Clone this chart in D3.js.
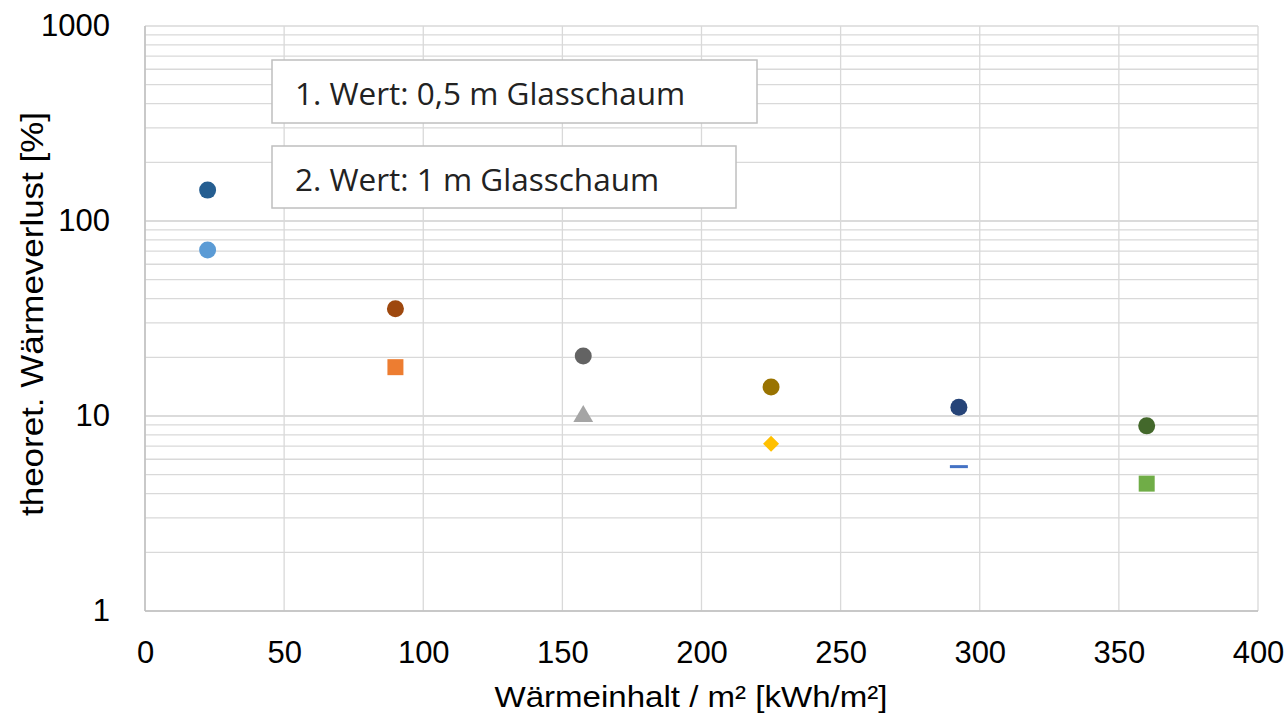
<!DOCTYPE html>
<html>
<head>
<meta charset="utf-8">
<script src="https://cdn.jsdelivr.net/npm/d3@7"></script>
<style>
  body { margin: 0; background: #fff; }
  svg { display: block; }
</style>
</head>
<body>
<div id="chart"></div>
<script>
// data
var xVals = [22.5, 90, 157.5, 225, 292.5, 360];
var firstVals = [144, 35.5, 20.3, 14.1, 11.1, 8.9];   // 0,5 m Glasschaum
var secondVals = [71, 17.8, 10.2, 7.2, 5.5, 4.5];     // 1 m Glasschaum
var firstColors = ["#255e91", "#9e480e", "#636363", "#997300", "#264478", "#43682b"];
var secondColors = ["#5b9bd5", "#ed7d31", "#a5a5a5", "#ffc000", "#4472c4", "#70ad47"];
var secondShapes = ["circle", "square", "triangle", "diamond", "dash", "square"];
var xTicks = [0, 50, 100, 150, 200, 250, 300, 350, 400];
var yTicks = [1, 10, 100, 1000];
var notes = ["1. Wert: 0,5 m Glasschaum", "2. Wert: 1 m Glasschaum"];

var W = 1288, H = 720;
var margin = {left: 145, right: 30, top: 26, bottom: 109};
var width = W - margin.left - margin.right;
var height = H - margin.top - margin.bottom;

var svg = d3.select("#chart").append("svg")
  .attr("width", W)
  .attr("height", H);

var g = svg.append("g")
  .attr("transform", "translate(" + margin.left + "," + margin.top + ")");

var x = d3.scaleLinear().domain([0, 400]).range([0, width]);
var y = d3.scaleLog().domain([1, 1000]).range([height, 0]);

// minor + major horizontal grid
var minor = [];
[1, 10, 100].forEach(function(d) {
  for (var k = 1; k <= 10; k++) minor.push(d * k);
});
g.append("g").selectAll("line")
  .data(minor)
  .join("line")
  .attr("x1", 0).attr("x2", width)
  .attr("y1", function(d) { return y(d); })
  .attr("y2", function(d) { return y(d); })
  .attr("stroke", "#d9d9d9")
  .attr("stroke-width", 1.3);

// vertical grid
g.append("g").selectAll("line")
  .data(xTicks)
  .join("line")
  .attr("x1", function(d) { return x(d); })
  .attr("x2", function(d) { return x(d); })
  .attr("y1", 0).attr("y2", height)
  .attr("stroke", "#d9d9d9")
  .attr("stroke-width", 1.3);

// axis lines
g.append("line").attr("x1", 0).attr("x2", width).attr("y1", height).attr("y2", height)
  .attr("stroke", "#bfbfbf").attr("stroke-width", 1.5);
g.append("line").attr("x1", 0).attr("x2", 0).attr("y1", 0).attr("y2", height)
  .attr("stroke", "#bfbfbf").attr("stroke-width", 1.5);

// axes (labels only)
var xAxis = g.append("g")
  .attr("transform", "translate(0," + height + ")")
  .call(d3.axisBottom(x).tickValues(xTicks).tickSize(0).tickPadding(36).tickFormat(d3.format("d")));
var yAxis = g.append("g")
  .call(d3.axisLeft(y).tickValues(yTicks).tickSize(0).tickPadding(35).tickFormat(d3.format("d")));
[xAxis, yAxis].forEach(function(a) {
  a.select(".domain").remove();
  a.selectAll("text")
    .attr("font-family", "'Liberation Sans', Arial, sans-serif")
    .attr("font-size", 31)
    .attr("fill", "#000");
});
xAxis.selectAll("text").attr("dy", "0.5em");

// axis titles
svg.append("text")
  .attr("x", 691)
  .attr("y", 707)
  .attr("text-anchor", "middle")
  .attr("font-family", "'Liberation Sans', Arial, sans-serif")
  .attr("font-size", 30)
  .attr("textLength", 393)
  .attr("lengthAdjust", "spacingAndGlyphs")
  .text("Wärmeinhalt / m² [kWh/m²]");

svg.append("text")
  .attr("transform", "translate(43,314) rotate(-90)")
  .attr("text-anchor", "middle")
  .attr("font-family", "'Liberation Sans', Arial, sans-serif")
  .attr("font-size", 32)
  .attr("textLength", 404)
  .attr("lengthAdjust", "spacingAndGlyphs")
  .text("theoret. Wärmeverlust [%]");

// note boxes
var boxes = [
  {x0: 272, y0: 60, w: 485, h: 63},
  {x0: 272, y0: 146, w: 464, h: 62}
];
boxes.forEach(function(b, i) {
  svg.append("rect")
    .attr("x", b.x0).attr("y", b.y0).attr("width", b.w).attr("height", b.h)
    .attr("fill", "#fff").attr("stroke", "#bfbfbf").attr("stroke-width", 1.5);
  svg.append("text")
    .attr("x", b.x0 + 23).attr("y", b.y0 + 45)
    .attr("font-family", "'Open Sans', sans-serif")
    .attr("font-size", 31.5)
    .attr("fill", "#222")
    .text(notes[i]);
});

// first values: circles
g.append("g").selectAll("circle")
  .data(xVals)
  .join("circle")
  .attr("cx", function(d) { return x(d); })
  .attr("cy", function(d, i) { return y(firstVals[i]); })
  .attr("r", 8.5)
  .attr("fill", function(d, i) { return firstColors[i]; });

// second values: various symbols
var symMap = {
  circle: d3.symbolCircle,
  square: d3.symbolSquare,
  triangle: d3.symbolTriangle
};
var symSize = { circle: 227, square: 256, triangle: 170 };
g.append("g").selectAll("path")
  .data(xVals)
  .join("path")
  .attr("transform", function(d, i) {
    var s = secondShapes[i];
    var yy = y(secondVals[i]) + (s === "triangle" ? 2 : 0);
    return "translate(" + x(d) + "," + yy + ")";
  })
  .attr("d", function(d, i) {
    var s = secondShapes[i];
    if (s === "dash") return "M-9,-1.5H9V1.5H-9Z";
    if (s === "diamond") return "M0,-8L8,0L0,8L-8,0Z";
    return d3.symbol().type(symMap[s]).size(symSize[s])();
  })
  .attr("fill", function(d, i) { return secondColors[i]; });
</script>
</body>
</html>
